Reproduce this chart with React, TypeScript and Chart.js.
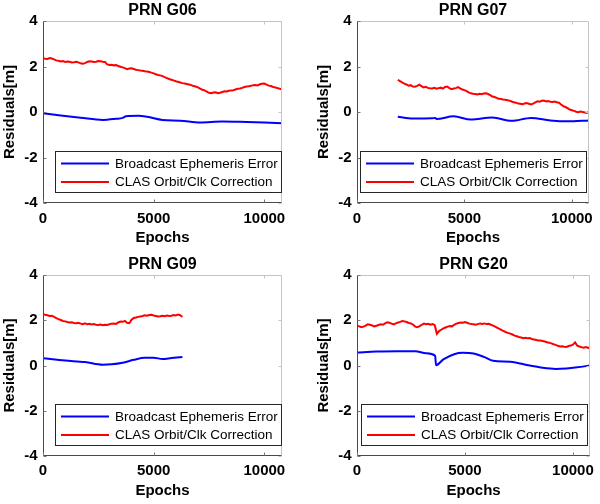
import React, { useEffect, useRef } from "react";
import { Chart, registerables } from "chart.js";

Chart.register(...registerables);

const FONT = "'Liberation Sans', Arial, Helvetica, sans-serif";

// ---------- axes / labels ----------
const X_TICKS = [0, 5000, 10000];
const Y_TICKS = [-4, -2, 0, 2, 4];
const X_MIN = 0;
const X_MAX = 10800;
const Y_MIN = -4;
const Y_MAX = 4;
const X_TITLE = "Epochs";
const Y_TITLE = "Residuals[m]";
const SERIES_NAMES = ["Broadcast Ephemeris Error", "CLAS Orbit/Clk Correction"];
const SERIES_COLORS = ["#0000ff", "#ff0000"];
const TITLES = ["PRN G06", "PRN G07", "PRN G09", "PRN G20"];

// ---------- data (epochs / residuals in m) ----------
const RED_STEP = 100;

const G06_RED_START = 0;
const G06_RED = [
  2.36, 2.34, 2.33, 2.37, 2.35, 2.31, 2.27, 2.25, 2.22, 2.24,
  2.20, 2.22, 2.21, 2.18, 2.19, 2.21, 2.18, 2.14, 2.12, 2.15,
  2.20, 2.23, 2.22, 2.20, 2.21, 2.24, 2.23, 2.21, 2.20, 2.09,
  2.07, 2.08, 2.05, 2.06, 2.02, 1.99, 1.96, 1.93, 1.88, 1.91,
  1.92, 1.89, 1.86, 1.84, 1.82, 1.81, 1.79, 1.78, 1.76, 1.73,
  1.70, 1.66, 1.63, 1.61, 1.58, 1.53, 1.49, 1.45, 1.42, 1.39,
  1.35, 1.33, 1.30, 1.27, 1.25, 1.23, 1.21, 1.18, 1.14, 1.12,
  1.08, 1.03, 0.98, 0.95, 0.90, 0.84, 0.83, 0.86, 0.87, 0.83,
  0.85, 0.88, 0.91, 0.90, 0.93, 0.95, 0.96, 0.99, 1.02, 1.03,
  1.06, 1.10, 1.12, 1.13, 1.15, 1.18, 1.19, 1.17, 1.22, 1.24,
  1.25, 1.20, 1.16, 1.14, 1.10, 1.08, 1.05, 1.02, 0.99,
];
const G06_BLUE_EPOCHS = [0, 800, 1700, 2700, 3300, 3600, 3750, 4300, 4700, 5400, 6200, 7100, 8100, 9200, 10000, 10800];
const G06_BLUE = [-0.05, -0.15, -0.25, -0.35, -0.3, -0.26, -0.19, -0.17, -0.21, -0.35, -0.38, -0.46, -0.42, -0.44, -0.46, -0.49];

const G07_RED_START = 1900;
const G07_RED = [
  1.41, 1.36, 1.30, 1.25, 1.21, 1.16, 1.18, 1.12, 1.11, 1.15,
  1.20, 1.14, 1.08, 1.11, 1.06, 1.04, 1.03, 1.06, 1.02, 1.05,
  1.07, 1.03, 1.10, 1.12, 1.05, 1.00, 1.03, 1.05, 1.09, 1.04,
  0.99, 0.96, 0.92, 0.86, 0.82, 0.80, 0.79, 0.77, 0.80, 0.78,
  0.81, 0.82, 0.79, 0.74, 0.68, 0.66, 0.62, 0.58, 0.57, 0.55,
  0.54, 0.52, 0.50, 0.46, 0.43, 0.41, 0.37, 0.36, 0.34, 0.37,
  0.39, 0.36, 0.33, 0.37, 0.42, 0.47, 0.45, 0.49, 0.50, 0.46,
  0.48, 0.45, 0.44, 0.46, 0.43, 0.41, 0.33, 0.26, 0.22, 0.17,
  0.11, 0.08, 0.05, 0.01, -0.01, 0.02, 0.00, -0.02, -0.04, 0.00,
];
const G07_BLUE_EPOCHS = [1900, 2600, 3500, 3650, 3700, 4500, 5300, 6300, 7200, 8100, 9000, 9800, 10800];
const G07_BLUE = [-0.21, -0.29, -0.28, -0.26, -0.31, -0.19, -0.33, -0.24, -0.39, -0.26, -0.37, -0.41, -0.37];

const G09_RED_START = 0;
const G09_RED = [
  2.27, 2.24, 2.22, 2.19, 2.20, 2.15, 2.09, 2.05, 2.01, 1.97,
  1.95, 1.92, 1.90, 1.91, 1.88, 1.87, 1.89, 1.85, 1.83, 1.86,
  1.82, 1.84, 1.81, 1.83, 1.80, 1.79, 1.81, 1.78, 1.80, 1.79,
  1.82, 1.85, 1.86, 1.84, 1.90, 1.94, 1.93, 1.97, 1.89, 1.87,
  2.02, 2.10, 2.12, 2.15, 2.17, 2.19, 2.22, 2.20, 2.23, 2.24,
  2.21, 2.19, 2.17, 2.18, 2.20, 2.18, 2.21, 2.19, 2.20, 2.23,
  2.21, 2.25, 2.22, 2.15,
];
const G09_BLUE_EPOCHS = [0, 1000, 1900, 2700, 3100, 3600, 4100, 4600, 5000, 5400, 5800, 6300];
const G09_BLUE = [0.32, 0.22, 0.15, 0.03, 0.05, 0.12, 0.25, 0.34, 0.34, 0.29, 0.33, 0.38];

const G20_RED_START = 0;
const G20_RED = [
  1.77, 1.73, 1.69, 1.72, 1.76, 1.82, 1.80, 1.77, 1.73, 1.76,
  1.79, 1.82, 1.80, 1.86, 1.91, 1.89, 1.85, 1.82, 1.86, 1.90,
  1.93, 1.97, 1.95, 1.92, 1.88, 1.86, 1.80, 1.72, 1.69, 1.74,
  1.80, 1.85, 1.82, 1.84, 1.80, 1.83, 1.78, 1.40, 1.52, 1.58,
  1.64, 1.68, 1.72, 1.74, 1.73, 1.80, 1.85, 1.88, 1.90, 1.89,
  1.92, 1.89, 1.85, 1.83, 1.82, 1.80, 1.83, 1.86, 1.84, 1.86,
  1.83, 1.84, 1.80, 1.76, 1.72, 1.66, 1.62, 1.56, 1.52, 1.47,
  1.44, 1.41, 1.37, 1.32, 1.29, 1.26, 1.24, 1.21, 1.23, 1.20,
  1.21, 1.17, 1.15, 1.13, 1.11, 1.10, 1.08, 1.06, 1.03, 1.01,
  0.98, 0.94, 0.91, 0.87, 0.84, 0.85, 0.83, 0.82, 0.86, 0.88,
  0.92, 1.02, 0.88, 0.84, 0.81, 0.79, 0.82, 0.78, 0.80,
];
const G20_BLUE_EPOCHS = [0, 900, 1900, 2700, 3200, 3620, 3660, 4000, 4500, 4900, 5400, 5900, 6300, 7100, 8000, 8600, 9200, 9700, 10200, 10800];
const G20_BLUE = [0.57, 0.62, 0.63, 0.63, 0.54, 0.43, 0.01, 0.27, 0.5, 0.56, 0.53, 0.37, 0.21, 0.17, 0.0, -0.1, -0.15, -0.13, -0.08, 0.0];

// ---------- helpers ----------
type Pt = { x: number; y: number };
const stepSeries = (start: number, vals: number[]): Pt[] =>
  vals.map((y, i) => ({ x: start + i * RED_STEP, y }));
const pairSeries = (xs: number[], ys: number[]): Pt[] => xs.map((x, i) => ({ x, y: ys[i] }));

const PANEL_DATA = [
  { blue: pairSeries(G06_BLUE_EPOCHS, G06_BLUE), red: stepSeries(G06_RED_START, G06_RED) },
  { blue: pairSeries(G07_BLUE_EPOCHS, G07_BLUE), red: stepSeries(G07_RED_START, G07_RED) },
  { blue: pairSeries(G09_BLUE_EPOCHS, G09_BLUE), red: stepSeries(G09_RED_START, G09_RED) },
  { blue: pairSeries(G20_BLUE_EPOCHS, G20_BLUE), red: stepSeries(G20_RED_START, G20_RED) },
];

// layout of each panel (canvas 300x252)
const PANEL_LAYOUT = [
  { left: 0, top: 0, axL: 43, axR: 282, axB: 203, tPadT: 1.4, tPadB: 0.4, xLabPad: 6.5, xTitlePad: 5.5, yTitlePad: 1, legRight: 1 },
  { left: 300, top: 0, axL: 57, axR: 296, axB: 203, tPadT: 1.4, tPadB: 0.4, xLabPad: 6.5, xTitlePad: 5.5, yTitlePad: 15, legRight: 3 },
  { left: 0, top: 252, axL: 43, axR: 282, axB: 204, tPadT: 2.5, tPadB: 1.3, xLabPad: 5.5, xTitlePad: 4, yTitlePad: 1, legRight: 1 },
  { left: 300, top: 252, axL: 57, axR: 296, axB: 204, tPadT: 2.5, tPadB: 1.3, xLabPad: 5.5, xTitlePad: 4, yTitlePad: 15, legRight: 3 },
];

const W = 300;
const H = 252;

const framePlugin = {
  id: "frameAndLegend",
  afterDraw(chart: any) {
    const { ctx, chartArea } = chart;
    const xs = chart.scales.x;
    const ys = chart.scales.y;
    const l = Math.round(chartArea.left) + 0.5;
    const r = Math.round(chartArea.right) - 0.5;
    const t = Math.round(chartArea.top) + 0.5;
    const b = Math.round(chartArea.bottom) - 0.5;
    ctx.save();
    ctx.lineWidth = 1;
    // light top/right
    ctx.strokeStyle = "#c4c4c4";
    ctx.beginPath();
    ctx.moveTo(l, t);
    ctx.lineTo(r, t);
    ctx.lineTo(r, b);
    ctx.stroke();
    const tl = 3;
    ctx.beginPath();
    X_TICKS.forEach((v) => {
      const px = Math.round(xs.getPixelForValue(v)) + 0.5;
      ctx.moveTo(px, t);
      ctx.lineTo(px, t + tl);
    });
    Y_TICKS.forEach((v) => {
      const py = Math.round(ys.getPixelForValue(v)) + 0.5;
      ctx.moveTo(r, py);
      ctx.lineTo(r - tl, py);
    });
    ctx.stroke();
    // dark left/bottom
    ctx.strokeStyle = "#4a4a4a";
    ctx.beginPath();
    ctx.moveTo(l, t);
    ctx.lineTo(l, b);
    ctx.lineTo(r, b);
    ctx.stroke();
    ctx.strokeStyle = "#777";
    ctx.beginPath();
    X_TICKS.forEach((v) => {
      const px = Math.round(xs.getPixelForValue(v)) + 0.5;
      ctx.moveTo(px, b);
      ctx.lineTo(px, b - tl);
    });
    Y_TICKS.forEach((v) => {
      const py = Math.round(ys.getPixelForValue(v)) + 0.5;
      ctx.moveTo(l, py);
      ctx.lineTo(l + tl, py);
    });
    ctx.stroke();

    // legend box
    const opts = chart.options.plugins.frameAndLegend || {};
    const lw = 226;
    const lh = 41;
    const lr = Math.round(chartArea.right - (opts.legRight ?? 1));
    const lb = Math.round(chartArea.bottom - 11);
    const ll = lr - lw;
    const lt = lb - lh;
    ctx.fillStyle = "#ffffff";
    ctx.fillRect(ll, lt, lw, lh);
    ctx.strokeStyle = "#262626";
    ctx.lineWidth = 1;
    ctx.strokeRect(ll + 0.5, lt + 0.5, lw, lh);
    chart.data.datasets.forEach((ds: any, i: number) => {
      const cy = lt + 12.5 + i * 18.5;
      ctx.strokeStyle = ds.borderColor;
      ctx.lineWidth = 2;
      ctx.beginPath();
      ctx.moveTo(ll + 6, cy);
      ctx.lineTo(ll + 54, cy);
      ctx.stroke();
      ctx.fillStyle = "#000";
      ctx.font = `13.5px ${FONT}`;
      ctx.textAlign = "left";
      ctx.textBaseline = "middle";
      ctx.fillText(ds.label, ll + 60, cy + 0.5);
    });
    ctx.restore();
  },
};

function Panel({ idx }: { idx: number }) {
  const ref = useRef<HTMLCanvasElement | null>(null);
  const L = PANEL_LAYOUT[idx];
  useEffect(() => {
    const d = PANEL_DATA[idx];
    const chart = new Chart(ref.current as HTMLCanvasElement, {
      type: "line",
      data: {
        datasets: [
          {
            label: SERIES_NAMES[0],
            data: d.blue,
            borderColor: SERIES_COLORS[0],
            borderWidth: 2,
            pointRadius: 0,
            cubicInterpolationMode: "monotone",
            fill: false,
          },
          {
            label: SERIES_NAMES[1],
            data: d.red,
            borderColor: SERIES_COLORS[1],
            borderWidth: 2,
            pointRadius: 0,
            tension: 0,
            fill: false,
          },
        ],
      },
      options: {
        animation: false,
        responsive: false,
        devicePixelRatio: 1,
        events: [],
        layout: {
          autoPadding: false,
          padding: { left: 0, top: 0, bottom: 0, right: W - L.axR },
        },
        plugins: {
          legend: { display: false },
          tooltip: { enabled: false },
          title: {
            display: true,
            text: TITLES[idx],
            fullSize: false,
            color: "#000",
            font: { family: FONT, size: 16, weight: "bold" },
            padding: { top: L.tPadT, bottom: L.tPadB },
          },
          frameAndLegend: { legRight: L.legRight },
        } as any,
        scales: {
          x: {
            type: "linear",
            min: X_MIN,
            max: X_MAX,
            grid: { display: false, drawTicks: false },
            border: { display: false },
            afterBuildTicks: (s: any) => {
              s.ticks = X_TICKS.map((v) => ({ value: v }));
            },
            afterFit: (s: any) => {
              s.height = H - L.axB;
            },
            ticks: {
              maxRotation: 0,
              autoSkip: false,
              padding: L.xLabPad,
              color: "#000",
              font: { family: FONT, size: 15, weight: "bold" },
              callback: (v: any) => String(v),
            },
            title: {
              display: true,
              text: X_TITLE,
              color: "#000",
              font: { family: FONT, size: 15, weight: "bold" },
              padding: { top: 0, bottom: L.xTitlePad },
            },
          },
          y: {
            type: "linear",
            min: Y_MIN,
            max: Y_MAX,
            grid: { display: false, drawTicks: false },
            border: { display: false },
            afterBuildTicks: (s: any) => {
              s.ticks = Y_TICKS.map((v) => ({ value: v }));
            },
            afterFit: (s: any) => {
              s.width = L.axL;
            },
            ticks: {
              padding: 5.5,
              autoSkip: false,
              color: "#000",
              font: { family: FONT, size: 15, weight: "bold" },
              callback: (v: any) => String(v),
            },
            title: {
              display: true,
              text: Y_TITLE,
              color: "#000",
              font: { family: FONT, size: 15, weight: "bold" },
              padding: { top: L.yTitlePad, bottom: 0 },
            },
          },
        },
      } as any,
      plugins: [framePlugin],
    });
    return () => chart.destroy();
  }, [idx]);
  return (
    <canvas
      ref={ref}
      width={W}
      height={H}
      style={{ position: "absolute", left: L.left, top: L.top, width: W, height: H, display: "block" }}
    />
  );
}

export default function App() {
  return (
    <div style={{ position: "absolute", left: 0, top: 0, width: 600, height: 504, background: "#fff", overflow: "hidden" }}>
      {[0, 1, 2, 3].map((i) => (
        <Panel key={i} idx={i} />
      ))}
    </div>
  );
}
